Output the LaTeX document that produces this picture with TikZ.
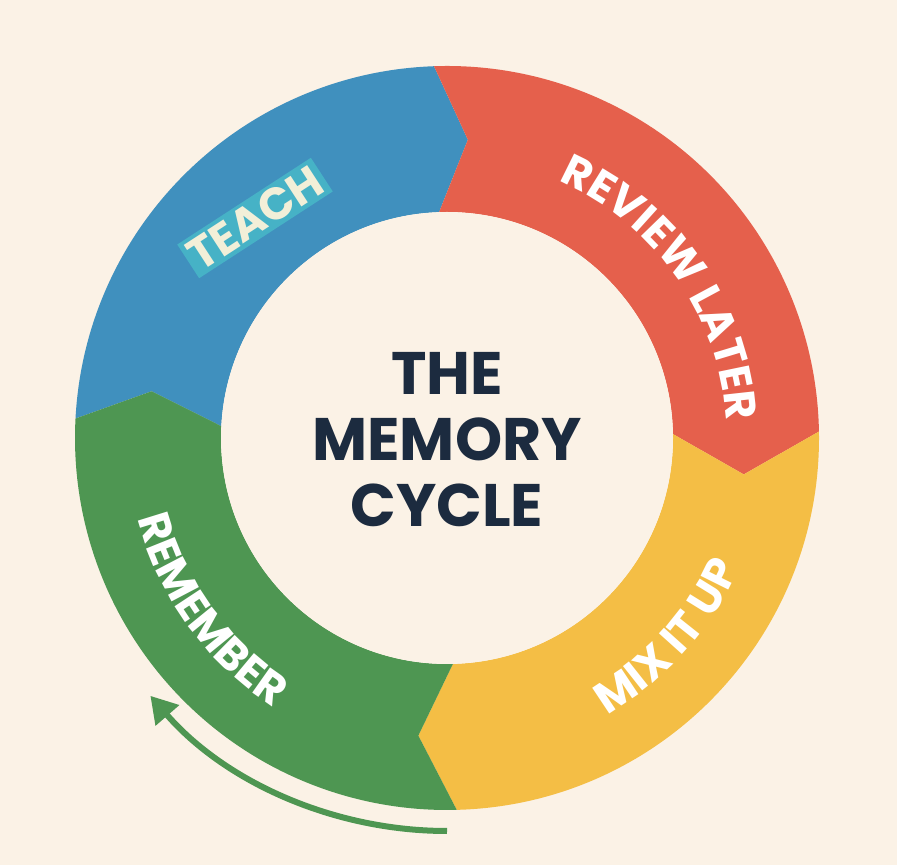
\documentclass[tikz,border=0pt]{standalone}
\usepackage{fontspec}
\setmainfont{Poppins}
\usetikzlibrary{decorations.text,arrows.meta}
\definecolor{bg}{HTML}{FBF2E6}
\definecolor{cblue}{HTML}{4090BE}
\definecolor{cred}{HTML}{E5604C}
\definecolor{cyel}{HTML}{F4BE45}
\definecolor{cgreen}{HTML}{4E9652}
\definecolor{navy}{HTML}{1C2B3F}
\definecolor{cream}{HTML}{F2EFD8}
\newcommand\ringseg[5]{%
\fill[#5] (#1:372pt) arc[start angle=#1,end angle=#2,radius=372pt] -- ({#2-#4}:299pt) -- (#2:226pt) arc[start angle=#2,end angle=#1,radius=226pt] -- ({#1-#3}:299pt) -- cycle;}
\tikzset{ringtext/.style={decorate,decoration={text along path,text align=center,text color=white,text={#1}}}}
\begin{document}
\begin{tikzpicture}[x=1pt,y=1pt]
\fill[bg] (0,0) rectangle (897,865);
\useasboundingbox (0,0) rectangle (897,865);
\begin{scope}[shift={(447,427)}]
\ringseg{177}{92}{6}{6}{cblue}
\ringseg{92}{1}{6}{8}{cred}
\ringseg{1}{-88.5}{8}{7}{cyel}
\ringseg{271.5}{177}{7}{6}{cgreen}
\fill[bg] (0,0) circle[radius=226pt];
\node[font=\bfseries\fontsize{60}{66}\selectfont,text=navy,align=center] (title) at (0,-2) {THE\\MEMORY\\CYCLE};
\path[ringtext={|\bfseries\fontsize{44}{44}\selectfont|REVIEW LATER}] (73:280pt) arc[start angle=73,end angle=-3,radius=280pt];
\path[ringtext={|\bfseries\fontsize{44}{44}\selectfont|REMEMBER}] (184:320pt) arc[start angle=184,end angle=248,radius=320pt];
\path[ringtext={|\bfseries\fontsize{44}{44}\selectfont|MIX IT UP}] (-70:320pt) arc[start angle=-70,end angle=-14,radius=320pt];
\node[rotate=33,fill=teal!55!cyan!70!white,fill opacity=0.55,text opacity=1,text=cream,font=\bfseries\fontsize{45}{45}\selectfont,inner sep=4pt] (teach) at (-192,220) {TEACH};
\coordinate (a0) at (270:393pt);
\draw[cgreen,line width=6pt,-{Triangle[length=26pt,width=30pt]}] (a0) arc[start angle=270,end angle=221,radius=393pt] coordinate (a1);
\end{scope}
\end{tikzpicture}
\end{document}
